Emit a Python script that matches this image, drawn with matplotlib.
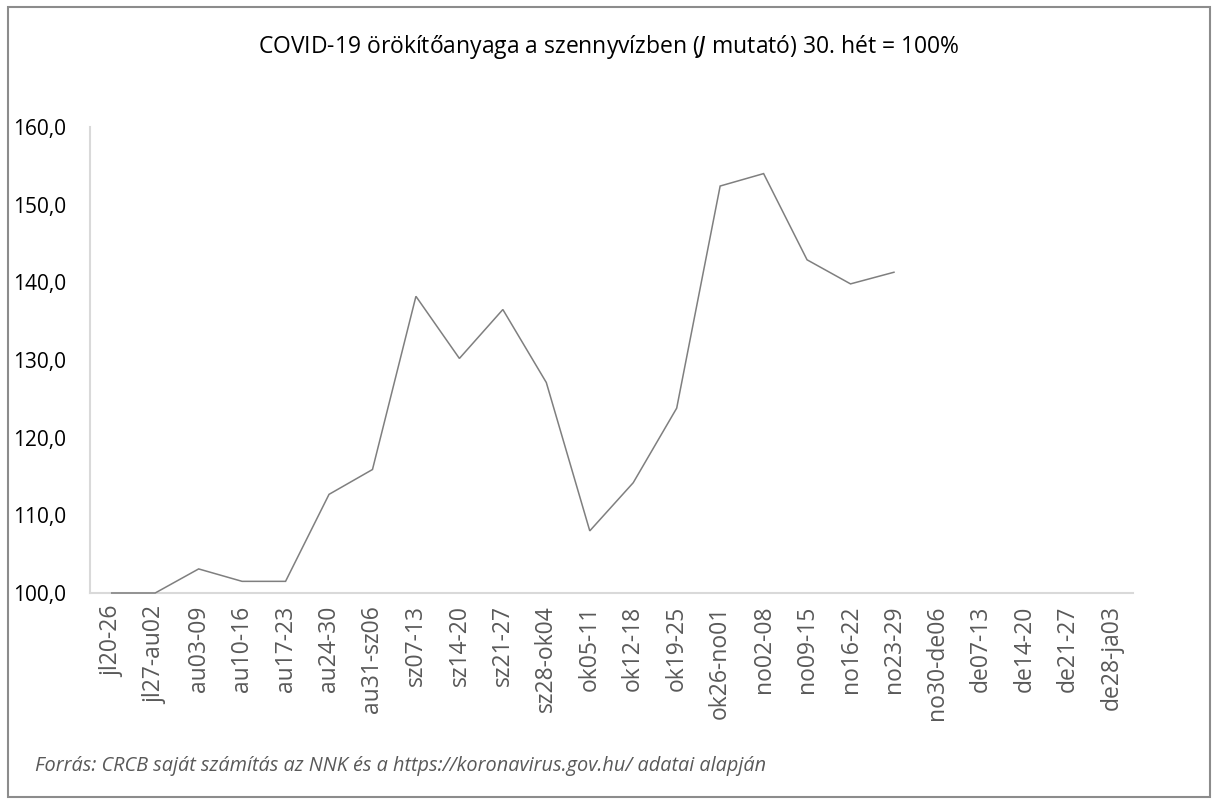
import matplotlib
matplotlib.use("Agg")
import matplotlib.pyplot as plt
from matplotlib.patches import Rectangle

categories = ["jl20-26", "jl27-au02", "au03-09", "au10-16", "au17-23", "au24-30",
              "au31-sz06", "sz07-13", "sz14-20", "sz21-27", "sz28-ok04", "ok05-11",
              "ok12-18", "ok19-25", "ok26-no01", "no02-08", "no09-15", "no16-22",
              "no23-29", "no30-de06", "de07-13", "de14-20", "de21-27", "de28-ja03"]
values = [100.0, 100.0, 103.1, 101.5, 101.5, 112.7, 115.9, 138.2, 130.2, 136.5,
          127.1, 108.0, 114.2, 123.8, 152.4, 154.0, 142.9, 139.8, 141.3]
yticks = [100, 110, 120, 130, 140, 150, 160]
ytick_labels = ["100,0", "110,0", "120,0", "130,0", "140,0", "150,0", "160,0"]

plt.rcParams['font.family'] = ['Open Sans', 'DejaVu Sans']

W, H = 1214, 800
fig = plt.figure(figsize=(W / 100, H / 100), dpi=100)
fig.patch.set_facecolor("white")

# outer frame
fig.patches.append(Rectangle((8 / W, 3 / H), (1210 - 8) / W, (793 - 3) / H,
                             transform=fig.transFigure, fill=False,
                             edgecolor="#8c8c8c", linewidth=1.5))

ax = fig.add_axes([90 / W, 1 - 593 / H, (1133 - 90) / W, (593 - 127) / H])
x = list(range(len(values)))
ax.plot(x, values, color="#7f7f7f", linewidth=1.1, solid_joinstyle="miter",
        zorder=3, clip_on=False)

ax.set_xlim(-0.5, len(categories) - 0.5)
ax.set_ylim(100, 160)
ax.set_xticks(range(len(categories)))
ax.set_xticklabels(categories, rotation=90, fontsize=16.5, color="#595959")
ax.set_yticks(yticks)
ax.set_yticklabels(ytick_labels, fontsize=15, color="black")
ax.tick_params(axis="both", length=0)
ax.tick_params(axis="x", pad=9)
ax.tick_params(axis="y", pad=17)

for s in ["top", "right"]:
    ax.spines[s].set_visible(False)
for s in ["left", "bottom"]:
    ax.spines[s].set_color("#d9d9d9")
    ax.spines[s].set_linewidth(1.5)
    ax.spines[s].set_zorder(1)

fig.text(609 / W, 1 - 47 / H,
         r"COVID-19 örökítőanyaga a szennyvízben ($\it{J}$ mutató) 30. hét = 100%",
         ha="center", va="center", fontsize=16.5, color="black")

fig.text(35 / W, 1 - 766 / H,
         "Forrás: CRCB saját számítás az NNK és a https://koronavirus.gov.hu/ adatai alapján",
         ha="left", va="center", fontsize=14.3, style="italic", color="#595959")

fig.savefig("out.png", dpi=100)
